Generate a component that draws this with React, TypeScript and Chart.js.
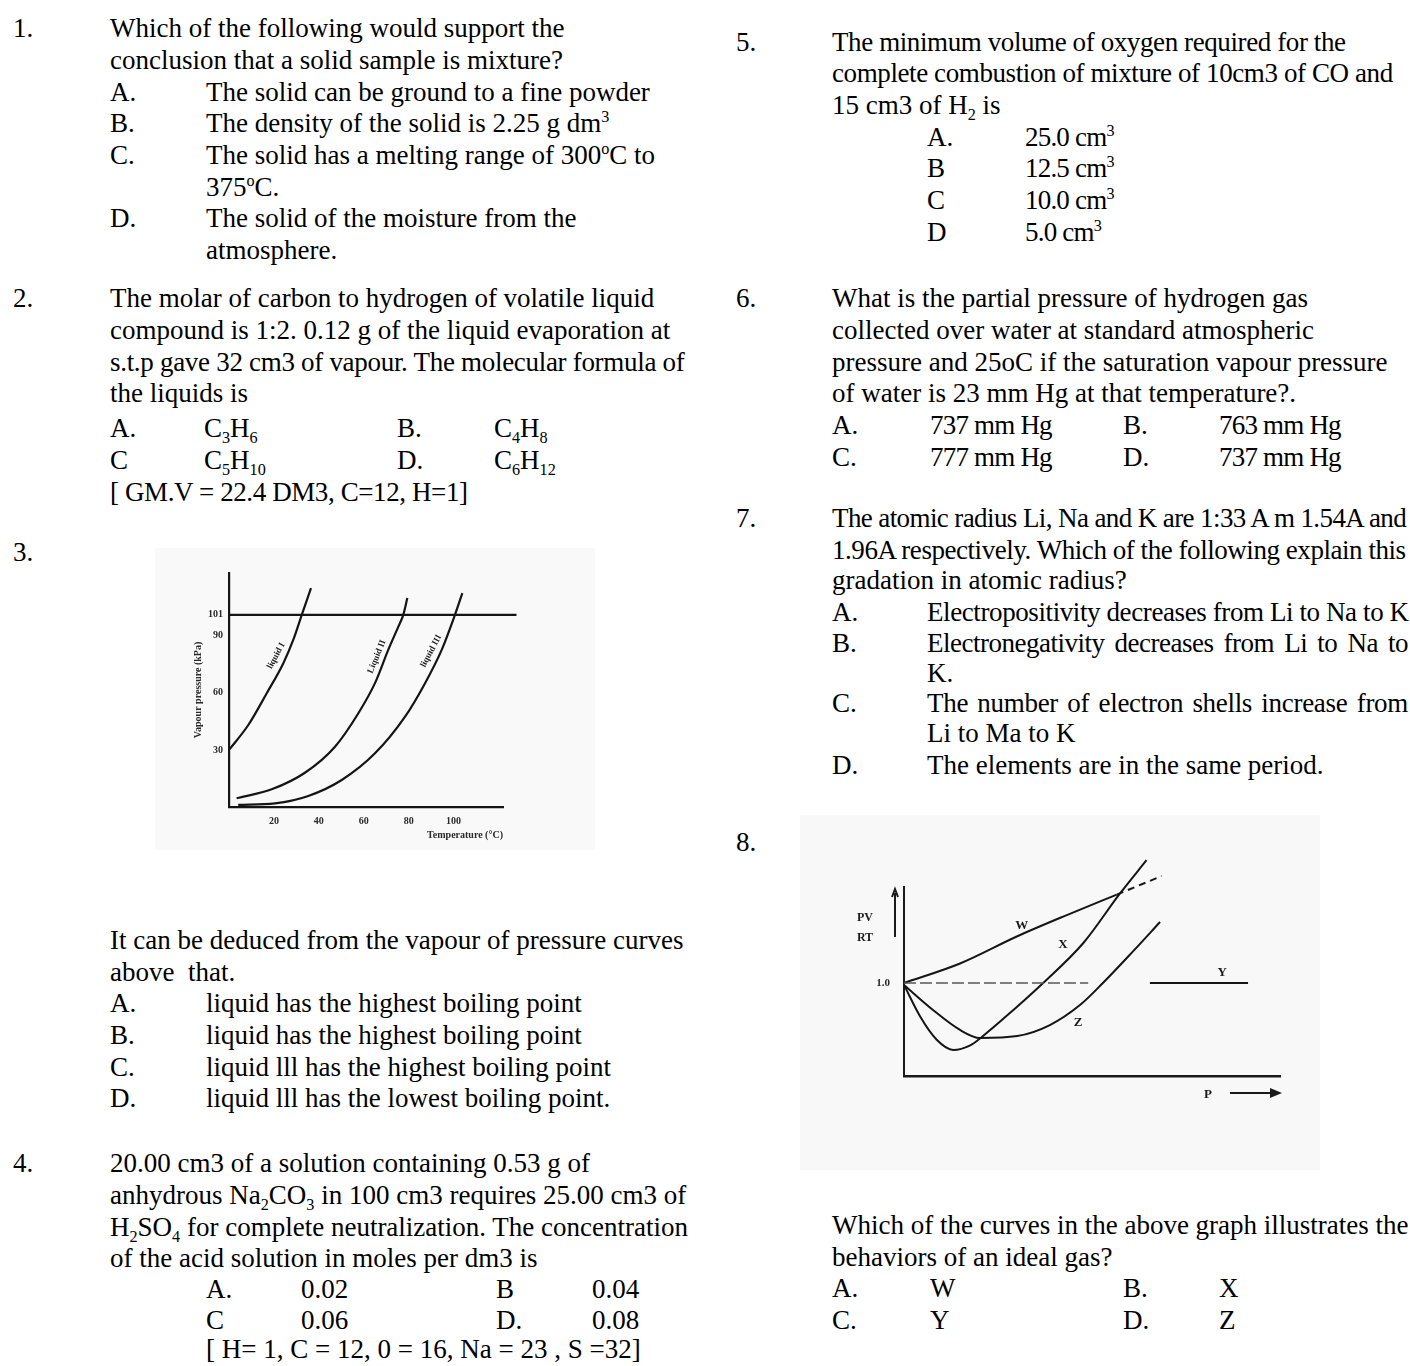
import React, { useEffect, useRef } from 'react';
import { Chart, registerables } from 'chart.js';
Chart.register(...registerables);

// ---------- Figure for question 3: vapour pressure curves ----------
const vpTempTicks = [20, 40, 60, 80, 100];
const vpPressureTicks = [30, 60, 90, 101];
const liquidITemp = [0, 8.6, 16.8, 24.2, 28.6, 32.4, 36.5];
const liquidIPress = [30.0, 43.1, 59.8, 75.6, 87.8, 101, 115.0];
const liquidIITemp = [3.4, 19.0, 33.8, 47.2, 57.6, 65.0, 70.9, 75.4, 77.6, 79.4];
const liquidIIPress = [4.6, 9.3, 18.0, 31.7, 49.3, 65.1, 82.6, 94.8, 101.0, 109.8];
const liquidIIITemp = [4.1, 20.5, 35.3, 50.2, 65.0, 78.4, 87.3, 94.7, 100.6, 103.9];
const liquidIIIPress = [1.1, 1.9, 5.8, 14.2, 28.2, 47.5, 65.1, 82.6, 101.0, 112.4];
const atmTemp = [0, 128, 139];
const atmPress = [101, 101, 99.5];
const vpCurveNames = ['liquid I', 'Liquid II', 'liquid III'];
const vpLabelTemp = [21.0, 65.8, 90.0];
const vpLabelPress = [79.5, 79.0, 82.0];
const vpLabelAngle = [-62, -68, -62];

// ---------- Figure for question 8: PV/RT against P ----------
const idealTicks = [1.0];
const wP = [0, 14.9, 30, 43.3, 56.6];
const wZ = [1.0, 1.21, 1.5, 1.73, 1.95];
const wTailP = [56.6, 68.5];
const wTailZ = [1.95, 2.15];
const xP = [0, 4.3, 8.7, 13.1, 17.6, 20.7, 29.1, 37, 47.7, 57.4, 64.5];
const xZ = [0.98, 0.64, 0.39, 0.28, 0.33, 0.42, 0.71, 1.0, 1.43, 1.96, 2.32];
const zP = [0, 7.7, 14.9, 20.2, 30.1, 38.8, 46.8, 52.9, 60.9, 68.1];
const zZ = [0.978, 0.71, 0.495, 0.409, 0.43, 0.548, 0.763, 1.0, 1.34, 1.656];
const yDashP = [0, 49];
const ySolidP = [65.4, 91.5];
const yValue = 1.0;
const gasNames = ['W', 'X', 'Y', 'Z'];
const gasLabelP = [31.3, 42.3, 84.6, 46.3];
const gasLabelZ = [1.62, 1.41, 1.11, 0.57];

const FONT = "'Liberation Serif', 'Times New Roman', Times, serif";

const pts = (xs: number[], ys: number[]) => xs.map((x, i) => ({ x, y: ys[i] }));
const lineDs = (data: any[], extra: any = {}) => ({
  data,
  borderColor: '#151515',
  borderWidth: 2.2,
  pointRadius: 0,
  cubicInterpolationMode: 'monotone',
  fill: false,
  clip: false,
  ...extra,
});

function VapourChart() {
  const ref = useRef<HTMLCanvasElement>(null);
  useEffect(() => {
    const plugin = {
      id: 'vpExtras',
      beforeDraw(chart: any) {
        const c = chart.ctx;
        c.save();
        c.fillStyle = '#f9f9f9';
        c.fillRect(0, 0, chart.width, chart.height);
        c.restore();
      },
      afterDatasetsDraw(chart: any) {
        const { ctx, scales } = chart;
        ctx.save();
        ctx.font = 'bold 9px ' + FONT;
        ctx.fillStyle = '#222';
        ctx.textAlign = 'center';
        ctx.textBaseline = 'middle';
        vpCurveNames.forEach((name, i) => {
          ctx.save();
          ctx.translate(scales.x.getPixelForValue(vpLabelTemp[i]), scales.y.getPixelForValue(vpLabelPress[i]));
          ctx.rotate((vpLabelAngle[i] * Math.PI) / 180);
          ctx.fillText(name, 0, 0);
          ctx.restore();
        });
        ctx.restore();
      },
    };
    const tickFont = { size: 10, weight: 'bold' as const, family: FONT };
    const chart = new Chart(ref.current as HTMLCanvasElement, {
      type: 'line',
      data: {
        datasets: [
          lineDs(pts(atmTemp, atmPress), { cubicInterpolationMode: 'default', tension: 0 }),
          lineDs(pts(liquidITemp, liquidIPress)),
          lineDs(pts(liquidIITemp, liquidIIPress)),
          lineDs(pts(liquidIIITemp, liquidIIIPress)),
        ] as any,
      },
      options: {
        animation: false,
        responsive: false,
        maintainAspectRatio: false,
        devicePixelRatio: 1,
        layout: { padding: { left: 34, right: 92, top: 25, bottom: 9 } },
        plugins: { legend: { display: false }, tooltip: { enabled: false } },
        scales: {
          x: {
            type: 'linear',
            min: 0,
            max: 122,
            grid: { display: false, drawTicks: false },
            border: { display: true, color: '#151515', width: 2.2 },
            ticks: { autoSkip: false, padding: 8, color: '#2a2a2a', font: tickFont },
            afterBuildTicks: (a: any) => {
              a.ticks = vpTempTicks.map((v) => ({ value: v }));
            },
            afterFit: (s: any) => {
              s.height = 34;
            },
            title: {
              display: true,
              text: 'Temperature (°C)',
              align: 'end',
              padding: 0,
              color: '#2a2a2a',
              font: { size: 10, weight: 'bold', family: FONT },
            },
          },
          y: {
            type: 'linear',
            min: 0,
            max: 123,
            grid: { display: false, drawTicks: false },
            border: { display: true, color: '#151515', width: 2.2 },
            ticks: { autoSkip: false, padding: 6, color: '#2a2a2a', font: tickFont },
            afterBuildTicks: (a: any) => {
              a.ticks = vpPressureTicks.map((v) => ({ value: v }));
            },
            afterFit: (s: any) => {
              s.width = 40;
            },
            title: {
              display: true,
              text: 'Vapour pressure (kPa)',
              padding: { top: 3, bottom: 0 },
              color: '#2a2a2a',
              font: { size: 10, weight: 'bold', family: FONT },
            },
          },
        },
      } as any,
      plugins: [plugin],
    });
    return () => chart.destroy();
  }, []);
  return (
    <canvas
      ref={ref}
      width={440}
      height={302}
      style={{ position: 'absolute', left: 155, top: 548, width: 440, height: 302 }}
    />
  );
}

function IdealGasChart() {
  const ref = useRef<HTMLCanvasElement>(null);
  useEffect(() => {
    const plugin = {
      id: 'gasExtras',
      beforeDraw(chart: any) {
        const c = chart.ctx;
        c.save();
        c.fillStyle = '#f8f8f8';
        c.fillRect(0, 0, chart.width, chart.height);
        c.restore();
      },
      afterDatasetsDraw(chart: any) {
        const { ctx, scales, chartArea } = chart;
        ctx.save();
        ctx.fillStyle = '#1a1a1a';
        ctx.strokeStyle = '#1a1a1a';
        ctx.textAlign = 'center';
        ctx.textBaseline = 'middle';
        ctx.font = 'bold 13px ' + FONT;
        gasNames.forEach((n, i) => {
          ctx.fillText(n, scales.x.getPixelForValue(gasLabelP[i]), scales.y.getPixelForValue(gasLabelZ[i]));
        });
        // PV / RT label with upward arrow
        ctx.font = 'bold 12px ' + FONT;
        const lx = chartArea.left - 39;
        ctx.fillText('PV', lx, chartArea.top + 31);
        ctx.fillText('RT', lx, chartArea.top + 51);
        const ax = chartArea.left - 9;
        ctx.lineWidth = 2;
        ctx.beginPath();
        ctx.moveTo(ax, chartArea.top + 50);
        ctx.lineTo(ax, chartArea.top + 6);
        ctx.stroke();
        ctx.beginPath();
        ctx.moveTo(ax - 3, chartArea.top + 10);
        ctx.lineTo(ax, chartArea.top + 2);
        ctx.lineTo(ax + 3, chartArea.top + 10);
        ctx.stroke();
        // P with arrow
        ctx.font = 'bold 13px ' + FONT;
        const py = chartArea.bottom + 17;
        ctx.fillText('P', chartArea.right - 72, py + 2);
        ctx.lineWidth = 2;
        ctx.beginPath();
        ctx.moveTo(chartArea.right - 50, py);
        ctx.lineTo(chartArea.right - 6, py);
        ctx.stroke();
        ctx.beginPath();
        ctx.moveTo(chartArea.right - 10, py - 5);
        ctx.lineTo(chartArea.right + 2, py);
        ctx.lineTo(chartArea.right - 10, py + 5);
        ctx.closePath();
        ctx.fill();
        ctx.restore();
      },
    };
    const chart = new Chart(ref.current as HTMLCanvasElement, {
      type: 'line',
      data: {
        datasets: [
          lineDs(pts(yDashP, yDashP.map(() => yValue)), { borderDash: [12, 4], borderWidth: 1.5, borderColor: '#555' }),
          lineDs(pts(ySolidP, ySolidP.map(() => yValue)), { borderWidth: 2 }),
          lineDs(pts(wP, wZ), { borderWidth: 2 }),
          lineDs(pts(wTailP, wTailZ), { borderWidth: 2, borderDash: [7, 5] }),
          lineDs(pts(xP, xZ), { borderWidth: 2 }),
          lineDs(pts(zP, zZ), { borderWidth: 2 }),
        ] as any,
      },
      options: {
        animation: false,
        responsive: false,
        maintainAspectRatio: false,
        devicePixelRatio: 1,
        layout: { padding: { left: 64, right: 40, top: 72, bottom: 84 } },
        plugins: { legend: { display: false }, tooltip: { enabled: false } },
        scales: {
          x: {
            type: 'linear',
            min: 0,
            max: 100,
            grid: { display: false, drawTicks: false },
            border: { display: true, color: '#1a1a1a', width: 2.5 },
            ticks: { display: false },
            afterFit: (s: any) => {
              s.height = 10;
            },
          },
          y: {
            type: 'linear',
            min: 0,
            max: 2.032,
            grid: { display: false, drawTicks: false },
            border: { display: true, color: '#1a1a1a', width: 2 },
            ticks: {
              autoSkip: false,
              padding: 14,
              color: '#2a2a2a',
              font: { size: 11, weight: 'bold', family: FONT },
              callback: (v: any) => Number(v).toFixed(1),
            },
            afterBuildTicks: (a: any) => {
              a.ticks = idealTicks.map((v) => ({ value: v }));
            },
            afterFit: (s: any) => {
              s.width = 40;
            },
          },
        },
      } as any,
      plugins: [plugin],
    });
    return () => chart.destroy();
  }, []);
  return (
    <canvas
      ref={ref}
      width={520}
      height={355}
      style={{ position: 'absolute', left: 800, top: 815, width: 520, height: 355 }}
    />
  );
}

type TP = { x: number; y: number; w?: number; ls?: number; children: React.ReactNode };
function T({ x, y, w, ls, children }: TP) {
  const style: React.CSSProperties = {
    position: 'absolute',
    left: x,
    top: y - 16,
    fontSize: 27,
    lineHeight: '32px',
    fontFamily: FONT,
    color: '#000',
    whiteSpace: 'nowrap',
  };
  if (ls) style.letterSpacing = ls + 'px';
  if (w) {
    style.width = w;
    style.whiteSpace = 'normal';
    style.textAlign = 'justify';
    (style as any).textAlignLast = 'justify';
  }
  return <div style={style}>{children}</div>;
}
const Sub = ({ children }: { children: React.ReactNode }) => (
  <span style={{ fontSize: '0.6em', position: 'relative', top: '0.35em' }}>{children}</span>
);
const Sup = ({ children }: { children: React.ReactNode }) => (
  <span style={{ fontSize: '0.6em', position: 'relative', top: '-0.6em' }}>{children}</span>
);

export default function App() {
  return (
    <div
      style={{
        position: 'absolute',
        left: 0,
        top: 0,
        width: 1410,
        height: 1366,
        overflow: 'hidden',
        background: '#fff',
      }}
    >
      {/* Question 1 */}
      <T x={13} y={28}>1.</T>
      <T x={110} y={28}>Which of the following would support the</T>
      <T x={110} y={60}>conclusion that a solid sample is mixture?</T>
      <T x={110} y={92}>A.</T>
      <T x={206} y={92}>The solid can be ground to a fine powder</T>
      <T x={110} y={123}>B.</T>
      <T x={206} y={123}>
        The density of the solid is 2.25 g dm<Sup>3</Sup>
      </T>
      <T x={110} y={155}>C.</T>
      <T x={206} y={155}>
        The solid has a melting range of 300<Sup>o</Sup>C to
      </T>
      <T x={206} y={187}>
        375<Sup>o</Sup>C.
      </T>
      <T x={110} y={218}>D.</T>
      <T x={206} y={218}>The solid of the moisture from the</T>
      <T x={206} y={250}>atmosphere.</T>

      {/* Question 2 */}
      <T x={13} y={298}>2.</T>
      <T x={110} y={298}>The molar of carbon to hydrogen of volatile liquid</T>
      <T x={110} y={330}>compound is 1:2. 0.12 g of the liquid evaporation at</T>
      <T x={110} y={362} ls={-0.3}>s.t.p gave 32 cm3 of vapour. The molecular formula of</T>
      <T x={110} y={393}>the liquids is</T>
      <T x={110} y={428}>A.</T>
      <T x={204} y={428}>
        C<Sub>3</Sub>H<Sub>6</Sub>
      </T>
      <T x={397} y={428}>B.</T>
      <T x={494} y={428}>
        C<Sub>4</Sub>H<Sub>8</Sub>
      </T>
      <T x={110} y={460}>C</T>
      <T x={204} y={460}>
        C<Sub>5</Sub>H<Sub>10</Sub>
      </T>
      <T x={397} y={460}>D.</T>
      <T x={494} y={460}>
        C<Sub>6</Sub>H<Sub>12</Sub>
      </T>
      <T x={110} y={492} ls={-0.4}>[ GM.V = 22.4 DM3, C=12, H=1]</T>

      {/* Question 3 */}
      <T x={13} y={552}>3.</T>
      <VapourChart />
      <T x={110} y={940}>It can be deduced from the vapour of pressure curves</T>
      <T x={110} y={972}>above&nbsp; that.</T>
      <T x={110} y={1003}>A.</T>
      <T x={206} y={1003}>liquid has the highest boiling point</T>
      <T x={110} y={1035}>B.</T>
      <T x={206} y={1035}>liquid has the highest boiling point</T>
      <T x={110} y={1067}>C.</T>
      <T x={206} y={1067}>liquid lll has the highest boiling point</T>
      <T x={110} y={1098}>D.</T>
      <T x={206} y={1098}>liquid lll has the lowest boiling point.</T>

      {/* Question 4 */}
      <T x={13} y={1163}>4.</T>
      <T x={110} y={1163}>20.00 cm3 of a solution containing 0.53 g of</T>
      <T x={110} y={1195}>
        anhydrous Na<Sub>2</Sub>CO<Sub>3</Sub> in 100 cm3 requires 25.00 cm3 of
      </T>
      <T x={110} y={1227}>
        H<Sub>2</Sub>SO<Sub>4</Sub> for complete neutralization. The concentration
      </T>
      <T x={110} y={1258}>of the acid solution in moles per dm3 is</T>
      <T x={206} y={1289}>A.</T>
      <T x={301} y={1289}>0.02</T>
      <T x={496} y={1289}>B</T>
      <T x={592} y={1289}>0.04</T>
      <T x={206} y={1320}>C</T>
      <T x={301} y={1320}>0.06</T>
      <T x={496} y={1320}>D.</T>
      <T x={592} y={1320}>0.08</T>
      <T x={206} y={1349}>[ H= 1, C = 12, 0 = 16, Na = 23 , S =32]</T>

      {/* Question 5 */}
      <T x={736} y={42}>5.</T>
      <T x={832} y={42} ls={-0.4}>The minimum volume of oxygen required for the</T>
      <T x={832} y={73} ls={-0.4}>complete combustion of mixture of 10cm3 of CO and</T>
      <T x={832} y={105}>
        15 cm3 of H<Sub>2</Sub> is
      </T>
      <T x={927} y={137}>A.</T>
      <T x={1025} y={137} ls={-0.8}>
        25.0 cm<Sup>3</Sup>
      </T>
      <T x={927} y={168}>B</T>
      <T x={1025} y={168} ls={-0.8}>
        12.5 cm<Sup>3</Sup>
      </T>
      <T x={927} y={200}>C</T>
      <T x={1025} y={200} ls={-0.8}>
        10.0 cm<Sup>3</Sup>
      </T>
      <T x={927} y={232}>D</T>
      <T x={1025} y={232} ls={-0.8}>
        5.0 cm<Sup>3</Sup>
      </T>

      {/* Question 6 */}
      <T x={736} y={298}>6.</T>
      <T x={832} y={298}>What is the partial pressure of hydrogen gas</T>
      <T x={832} y={330}>collected over water at standard atmospheric</T>
      <T x={832} y={362}>pressure and 25oC if the saturation vapour pressure</T>
      <T x={832} y={393}>of water is 23 mm Hg at that temperature?.</T>
      <T x={832} y={425}>A.</T>
      <T x={930} y={425} ls={-0.8}>737 mm Hg</T>
      <T x={1123} y={425}>B.</T>
      <T x={1219} y={425} ls={-0.8}>763 mm Hg</T>
      <T x={832} y={457}>C.</T>
      <T x={930} y={457} ls={-0.8}>777 mm Hg</T>
      <T x={1123} y={457}>D.</T>
      <T x={1219} y={457} ls={-0.8}>737 mm Hg</T>

      {/* Question 7 */}
      <T x={736} y={518}>7.</T>
      <T x={832} y={518} ls={-0.6}>The atomic radius Li, Na and K are 1:33 A m 1.54A and</T>
      <T x={832} y={550} ls={-0.45}>1.96A respectively. Which of the following explain this</T>
      <T x={832} y={580}>gradation in atomic radius?</T>
      <T x={832} y={612}>A.</T>
      <T x={927} y={612} ls={-0.4}>Electropositivity decreases from Li to Na to K</T>
      <T x={832} y={643}>B.</T>
      <T x={927} y={643} ls={-0.5} w={481}>Electronegativity decreases from Li to Na to</T>
      <T x={927} y={673}>K.</T>
      <T x={832} y={703}>C.</T>
      <T x={927} y={703} ls={-0.3} w={481}>The number of electron shells increase from</T>
      <T x={927} y={733}>Li to Ma to K</T>
      <T x={832} y={765}>D.</T>
      <T x={927} y={765}>The elements are in the same period.</T>

      {/* Question 8 */}
      <T x={736} y={842}>8.</T>
      <IdealGasChart />
      <T x={832} y={1225}>Which of the curves in the above graph illustrates the</T>
      <T x={832} y={1257}>behaviors of an ideal gas?</T>
      <T x={832} y={1288}>A.</T>
      <T x={930} y={1288}>W</T>
      <T x={1123} y={1288}>B.</T>
      <T x={1219} y={1288}>X</T>
      <T x={832} y={1320}>C.</T>
      <T x={930} y={1320}>Y</T>
      <T x={1123} y={1320}>D.</T>
      <T x={1219} y={1320}>Z</T>
    </div>
  );
}
